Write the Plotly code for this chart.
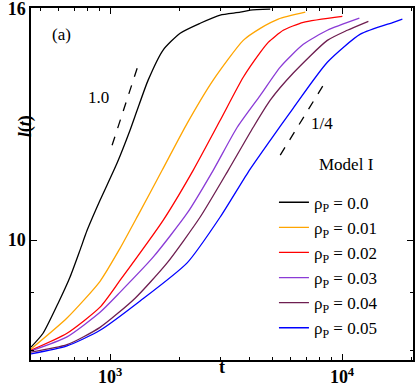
import plotly.graph_objects as go

# l(t) vs t (log-log)
t_p00 = [456, 514, 597, 672, 742, 796, 905, 1072, 1220, 1308, 1459, 1693, 2005, 2446, 2984, 3640, 4020, 4904]
l_p00 = [8.05, 8.28, 8.80, 9.28, 9.80, 10.20, 10.84, 11.69, 12.50, 13.01, 13.83, 14.70, 15.21, 15.52, 15.78, 15.87, 15.94, 15.97]

t_p01 = [456, 652, 905, 1105, 1321, 1676, 2149, 2783, 3750, 4441, 5311, 6944]
l_p01 = [8.02, 8.54, 9.20, 9.84, 10.52, 11.52, 12.67, 13.83, 14.99, 15.36, 15.65, 15.87]

t_p02 = [456, 652, 905, 1105, 1693, 2281, 2984, 3750, 4441, 4806, 5580, 6808, 10030]
l_p02 = [8.00, 8.28, 8.73, 9.22, 10.41, 11.52, 12.75, 13.91, 14.63, 14.93, 15.30, 15.55, 15.74]

t_p03 = [456, 652, 905, 1105, 1533, 2149, 2783, 3533, 4441, 5415, 6808, 8643, 11876]
l_p03 = [7.99, 8.22, 8.64, 9.00, 9.66, 10.56, 11.52, 12.57, 13.41, 14.20, 14.87, 15.30, 15.68]

t_p04 = [456, 652, 905, 1282, 1762, 2446, 3230, 4142, 4904, 6164, 8643, 10541, 12990]
l_p04 = [7.97, 8.09, 8.38, 8.89, 9.55, 10.48, 11.52, 12.57, 13.28, 14.03, 14.99, 15.30, 15.58]

t_p05 = [456, 652, 905, 1347, 2149, 2984, 3941, 4904, 6164, 8643, 11995, 16650, 18204]
l_p05 = [7.94, 8.07, 8.33, 8.84, 9.55, 10.48, 11.48, 12.24, 13.07, 14.34, 15.18, 15.55, 15.65]

# slope guide lines
t_guide1 = [1020, 1334]
l_guide1 = [12.12, 14.34]
t_guide2 = [5415, 8306]
l_guide2 = [11.88, 13.69]

labels = ["0.0", "0.01", "0.02", "0.03", "0.04", "0.05"]
colors = ["#000000", "#FFA500", "#FF0000", "#8A3BD6", "#6E1E50", "#0000FF"]
series = [(t_p00, l_p00), (t_p01, l_p01), (t_p02, l_p02),
          (t_p03, l_p03), (t_p04, l_p04), (t_p05, l_p05)]

FONT = "Liberation Serif"

fig = go.Figure()

for (t, l), lab, c in zip(series, labels, colors):
    fig.add_trace(go.Scatter(
        x=t, y=l, mode="lines", name=f"ρ<sub>P</sub> = {lab}",
        line=dict(color=c, width=1.3, shape="spline", smoothing=0.6)
    ))

for t, l in [(t_guide1, l_guide1), (t_guide2, l_guide2)]:
    fig.add_trace(go.Scatter(
        x=t, y=l, mode="lines", showlegend=False,
        line=dict(color="black", width=1.3, dash="dash")
    ))

axis_common = dict(
    type="log", showgrid=False, zeroline=False, automargin=False,
    showline=True, linecolor="black", linewidth=1.5, mirror="allticks",
    ticks="inside", ticklen=6, tickwidth=1.2, tickcolor="black",
    ticklabeloverflow="allow",
)

fig.update_xaxes(
    **axis_common,
    range=[2.659, 4.306],
    tickvals=[1000, 10000],
    ticktext=["<b>10<sup>3</sup></b>", "<b>10<sup>4</sup></b>"],
    tickfont=dict(family=FONT, size=18, color="black"),
    minor=dict(ticks="inside", ticklen=3, tickwidth=1, tickcolor="black",
               tickvals=[500, 600, 700, 800, 900, 2000, 3000, 4000, 5000,
                         6000, 7000, 8000, 9000, 20000]),
)
fig.update_yaxes(
    **axis_common,
    range=[0.8945, 1.2043],
    tickvals=[10, 16],
    ticktext=["<b>10</b>", "<b>16</b>"],
    tickfont=dict(family=FONT, size=18, color="black"),
    minor=dict(ticks="inside", ticklen=3, tickwidth=1, tickcolor="black",
               tickvals=[8, 9]),
)

ann = dict(xref="paper", yref="paper", showarrow=False,
           xanchor="center", yanchor="middle",
           font=dict(family=FONT, size=17, color="black"))
fig.add_annotation(x=0.081, y=0.926, text="(a)", **ann)
fig.add_annotation(x=0.178, y=0.747, text="1.0", **ann)
fig.add_annotation(x=0.762, y=0.673, text="1/4", **ann)
fig.add_annotation(x=0.827, y=0.554, text="Model I", **ann)
fig.add_annotation(x=0.5, y=-0.054, text="<b>t</b>", xref="paper", yref="paper",
                   showarrow=False, font=dict(family=FONT, size=18, color="black"))
fig.add_annotation(x=-0.045, y=0.665, text="<b><i>l</i>(<i>t</i>)</b>", textangle=-90,
                   xref="paper", yref="paper", showarrow=False,
                   font=dict(family=FONT, size=18, color="black"))

fig.update_layout(
    width=415, height=388,
    margin=dict(l=31, r=2, t=8, b=28),
    paper_bgcolor="white", plot_bgcolor="white",
    legend=dict(x=0.636, y=0.498, xanchor="left", yanchor="top",
                bgcolor="rgba(0,0,0,0)",
                font=dict(family=FONT, size=17, color="black")),
)

# drop the browser's default 8px body margin so the figure sits at (0, 0)
fig.write_html("out.html", config={"displayModeBar": False},
               post_script="document.body.style.margin='0px';")
